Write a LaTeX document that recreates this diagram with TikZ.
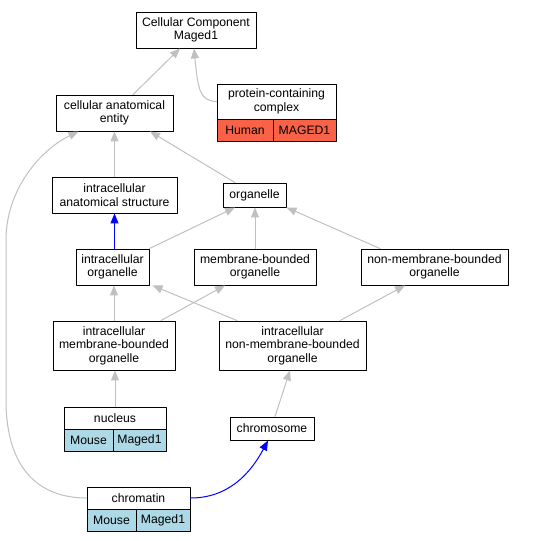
\documentclass[tikz,border=0pt]{standalone}
\usepackage{fontspec}
\setmainfont{Liberation Sans}
\usetikzlibrary{arrows.meta}
\definecolor{edgegray}{RGB}{192,192,192}
\definecolor{humanred}{RGB}{250,98,72}
\definecolor{mouseblue}{RGB}{173,216,230}
\begin{document}
\begin{tikzpicture}[x=1pt, y=-1pt, line join=round, line cap=round,
    font=\fontsize{12.2}{13.5}\selectfont,
    term/.style={draw, line width=0.9pt, align=center, inner sep=0pt, fill=white},
    cell/.style={draw, line width=0.9pt, inner sep=0pt, minimum height=22pt},
    isa/.style={draw=edgegray, line width=1pt, -{Triangle[length=10pt, width=8pt]}},
    partof/.style={draw=blue, line width=1pt, -{Triangle[length=10pt, width=8pt]}}]
			% Fix the page size
			\useasboundingbox (0,0) rectangle (533,541);
			
			% Top of the tree
			\node[term, minimum width=120pt, minimum height=36pt] (cc) at (196,30) {Cellular Component\\Maged1};
			\node[term, minimum width=117pt, minimum height=36pt] (cae) at (114.5,113) {cellular anatomical\\entity};
			
			% Protein-containing complex with its annotation row
			\node[term, minimum width=119pt, minimum height=35pt] (pcc) at (276.5,101.5) {protein-containing\\complex};
			\node[cell, fill=humanred, minimum width=56pt] (pcchuman) at (245,130) {Human};
			\node[cell, fill=humanred, minimum width=63pt] (pccgene) at (304.5,130) {MAGED1};
			
			% Middle levels
			\node[term, minimum width=125pt, minimum height=36pt] (ias) at (114.5,195) {intracellular\\anatomical structure};
			\node[term, minimum width=63pt, minimum height=24pt] (org) at (254.5,195) {organelle};
			\node[term, minimum width=73pt, minimum height=36pt] (io) at (112.5,267) {intracellular\\organelle};
			\node[term, minimum width=122pt, minimum height=36pt] (mbo) at (255,267) {membrane-bounded\\organelle};
			\node[term, minimum width=147pt, minimum height=36pt] (nmbo) at (434.5,267) {non-membrane-bounded\\organelle};
			\node[term, minimum width=122pt, minimum height=49pt] (imbo) at (114,345.5) {intracellular\\membrane-bounded\\organelle};
			\node[term, minimum width=147pt, minimum height=49pt] (inmbo) at (292.5,345.5) {intracellular\\non-membrane-bounded\\organelle};
			
			% Nucleus with its annotation row
			\node[term, minimum width=102pt, minimum height=22pt] (nuc) at (115,418) {nucleus};
			\node[cell, fill=mouseblue, minimum width=49pt] (nucmouse) at (88.5,440) {Mouse};
			\node[cell, fill=mouseblue, minimum width=53pt] (nucgene) at (139.5,440) {Maged1};
			
			% Chromosome and chromatin
			\node[term, minimum width=84pt, minimum height=23pt] (chrom) at (272,428.5) {chromosome};
			\node[term, minimum width=103pt, minimum height=22pt] (chromatin) at (138.5,498) {chromatin};
			\node[cell, fill=mouseblue, minimum width=49pt] (chmouse) at (111.5,520) {Mouse};
			\node[cell, fill=mouseblue, minimum width=54pt] (chgene) at (163,520) {Maged1};
			
			% Waypoints of the long curve on the left
			\coordinate (LB) at (6,400);
			\coordinate (LT) at (6,240);
			
			% is-a edges
			\draw[isa] ([xshift=18.5]cae.north) -- ([xshift=-16]cc.south);
			\draw[isa] (pcc.west) .. controls (200,101) and (198,90) .. ([xshift=-2]cc.south);
			\draw[isa] (ias.north) -- (cae.south);
			\draw[isa] ([xshift=-19.5]org.north) -- ([xshift=35.5]cae.south);
			\draw[isa] (chromatin.west) .. controls (40,498) and (6,470) .. (LB) -- (LT) .. controls (6,190) and (40,150) .. ([xshift=-36]cae.south);
			\draw[isa] (io.north east) -- ([xshift=-19.5]org.south);
			\draw[isa] (mbo.north) -- (mbo.north |- org.south);
			\draw[isa] ([xshift=-54.5]nmbo.north) -- (org.south east);
			\draw[isa] (imbo.north) -- (imbo.north |- io.south);
			\draw[isa] ([xshift=47]imbo.north) -- ([xshift=-30]mbo.south);
			\draw[isa] ([xshift=-55.5]inmbo.north) -- ([xshift=3]io.south east);
			\draw[isa] ([xshift=47.5]inmbo.north) -- ([xshift=-29.5]nmbo.south);
			\draw[isa] (nuc.north) -- (nuc.north |- imbo.south);
			\draw[isa] ([xshift=3]chrom.north) -- ([xshift=-2.5]inmbo.south);
			
			% part-of edges
			\draw[partof] (io.north -| ias.south) -- (ias.south);
			\draw[partof] (chromatin.east) to[out=0, in=-118] ([xshift=-4]chrom.south);
			
		\end{tikzpicture}
\end{document}
